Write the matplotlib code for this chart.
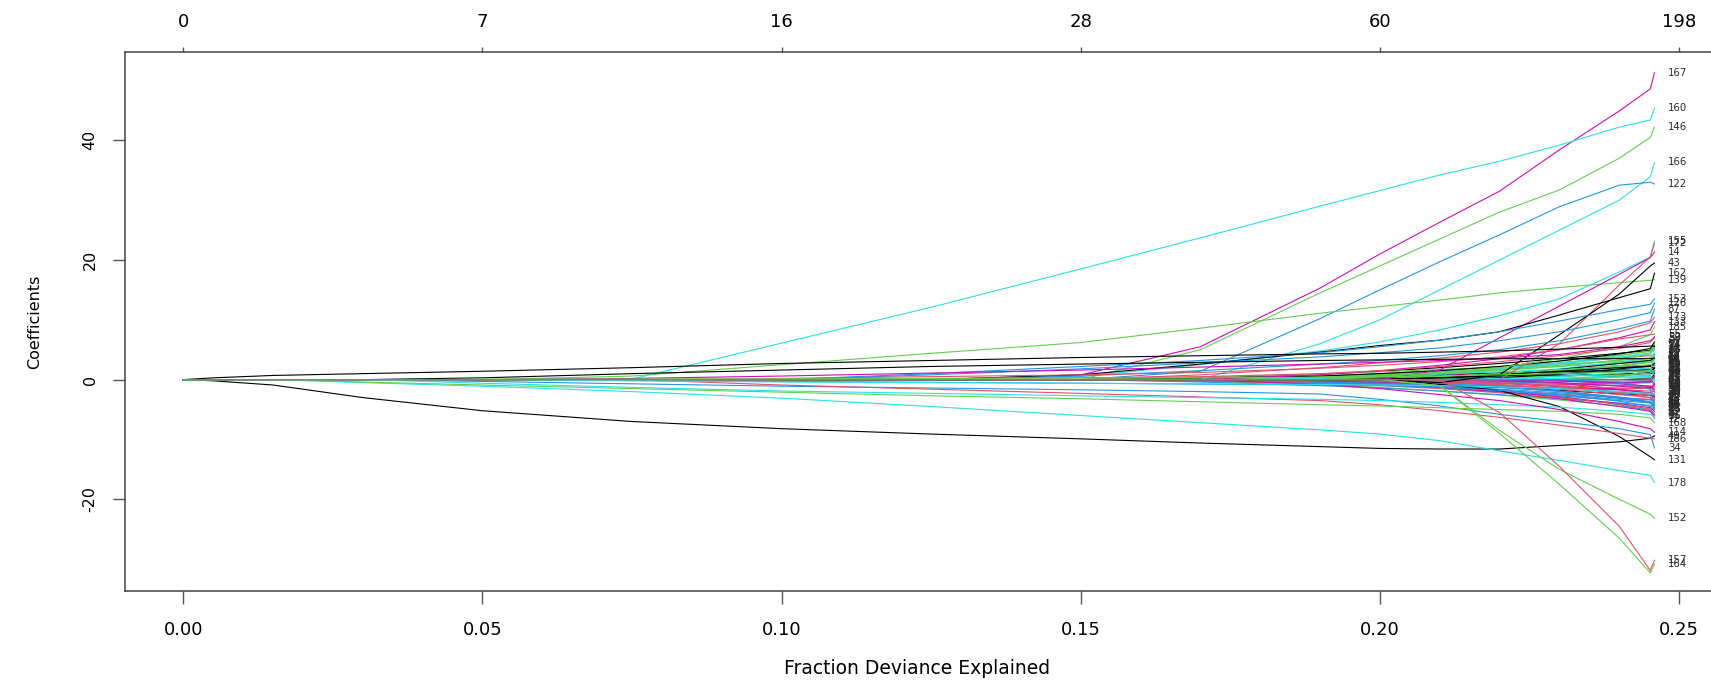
import matplotlib
matplotlib.use("Agg")
import matplotlib.pyplot as plt

# fraction of deviance explained at the path knots
dev = [0, 0.005, 0.015, 0.03, 0.05, 0.075, 0.10, 0.125, 0.15, 0.17,
       0.19, 0.20, 0.21, 0.22, 0.23, 0.24, 0.2452, 0.2459]

# coefficient paths (one value per dev knot)
major_labels = ['167', '160', '146', '166', '122', '139', '155', '14', '172',
                '43', '162', '153', '126', '87', '173', '133', '185', '55',
                '52', '59', '24', '16', '49', '131', '178', '34', '186',
                '168', '7', '114', '4', '91', '77', '152', '164', '157']
major_beta = [
    [0, 0, 0, 0, 0, 0, 0, 0, 0.8, 5.5, 15.3, 21, 26.3, 31.5, 38.4, 44.9, 48.6, 51.3],
    [0, 0, 0, 0, 0, 0.1, 6.1, 12.1, 18.5, 23.7, 29, 31.6, 34.2, 36.5, 39.2, 42.2, 43.4, 45.4],
    [0, 0, 0, 0, 0, 0, 0, 0, 0, 5, 14.5, 19, 23.5, 28, 31.7, 37, 40.5, 42.2],
    [0, 0, 0, 0, 0, 0, 0, 0, 0, 0, 6, 10, 15, 20, 25, 30, 33.9, 36.3],
    [0, 0, 0, 0, 0, 0, 0, 0, 0, 1.4, 10.2, 15, 19.7, 24.2, 28.9, 32.5, 33.0, 32.7],
    [0, 0, 0, 0, 0, 0.6, 2.5, 4.4, 6.2, 8.6, 11.1, 12.2, 13.3, 14.5, 15.4, 16.2, 16.6, 16.7],
    [0, 0, 0, 0, 0, 0, 0, 0, 0.5, 2.5, 4.8, 6.3, 8.3, 10.7, 13.5, 18.0, 20.5, 23.2],
    [0, 0, 0, 0, 0, 0, 0, 0, 0, 0, 0, 0, 1.6, 7.0, 12.3, 17.6, 20.4, 21.3],
    [0, 0, 0, 0, 0, 0, 0, 0, 0, 0, 0, 0, 0, 0, 6.0, 15.8, 20.5, 22.8],
    [0, 0, 0, 0, 0, 0, 0, 0, 0, 0, 0, 0, -0.5, 0.8, 7.5, 14.3, 19.0, 19.5],
    [0, 0, 0, 0, 0, 0, 0, 0, 0.8, 2.6, 4.6, 5.7, 6.6, 8.0, 10.8, 13.7, 15.2, 17.8],
    [0, 0, 0, 0, 0, 0, 0, 1.0, 2.2, 3.2, 4.5, 5.5, 6.6, 8.0, 9.8, 11.7, 12.6, 13.5],
    [0, 0, 0, 0, 0, 0, 0, 0.8, 1.8, 2.8, 3.8, 4.5, 5.3, 6.5, 8.0, 10.0, 11.2, 12.8],
    [0, 0, 0, 0, 0, 0, 0, 0, 0.6, 1.5, 2.6, 3.2, 4.0, 5.0, 6.5, 8.5, 9.8, 11.8],
    [0, 0, 0, 0, 0, 0, 0, 0, 0, 0.8, 2.0, 2.8, 3.6, 4.6, 6.0, 8.0, 9.5, 10.4],
    [0, 0, 0, 0, 0, 0, 0, 0, 0, 0, 0.8, 1.5, 2.4, 3.5, 5.0, 7.0, 8.3, 9.7],
    [0, 0, 0, 0, 0, 0, 0, 0, 0, 0, 0, 0.5, 1.2, 2.0, 3.5, 5.5, 7.5, 8.8],
    [0, 0, 0, 0, 0, 0, 0.2, 0.5, 0.8, 1.2, 1.9, 2.4, 3.0, 3.8, 5.0, 6.8, 7.5, 7.6],
    [0, 0, 0, 0, 0, 0, 0, 0.2, 0.3, 0.5, 1.0, 1.5, 2.2, 3.0, 4.0, 5.2, 6.2, 7.2],
    [0, 0, 0, 0, 0, 0.2, 0.6, 1.1, 1.6, 2.1, 2.6, 2.9, 3.2, 3.6, 4.2, 5.5, 6.5, 7.0],
    [0, 0.3, 0.7, 1.0, 1.4, 2.0, 2.7, 3.2, 3.7, 4.0, 4.3, 4.4, 4.6, 4.8, 5.1, 5.4, 5.6, 5.6],
    [0, 0, 0, 0, 0.3, 1.0, 1.6, 2.2, 2.6, 2.9, 3.2, 3.3, 3.4, 3.5, 3.5, 3.5, 3.5, 3.6],
    [0, -0.2, -0.9, -3.0, -5.2, -7.0, -8.2, -9.1, -9.9, -10.6, -11.2, -11.5, -11.6, -11.6, -11.0, -10.4, -9.8, -9.4],
    [0, 0, 0, 0, 0, 0, 0, 0, 0, 0, 0, 0, -0.8, -1.8, -4.5, -9.5, -12.9, -13.4],
    [0, 0, 0, -0.5, -1.1, -2.0, -3.1, -4.5, -6.0, -7.2, -8.4, -9.1, -10.2, -11.9, -13.5, -15.2, -16.0, -17.2],
    [0, 0, 0, 0, -0.3, -0.7, -1.1, -1.4, -1.7, -2.0, -2.4, -3.3, -4.4, -5.8, -7.0, -8.2, -9.2, -11.4],
    [0, 0, 0, 0, 0, 0, -0.9, -1.6, -2.3, -2.9, -3.5, -4.2, -5.2, -6.3, -7.6, -9.0, -9.8, -9.9],
    [0, 0, 0, -0.4, -0.9, -1.5, -2.1, -2.7, -3.2, -3.7, -4.2, -4.4, -4.7, -5.0, -5.3, -5.8, -6.4, -7.2],
    [0, 0, 0, 0, -0.6, -1.3, -1.9, -2.3, -2.7, -3.0, -3.3, -3.5, -3.8, -4.2, -4.6, -5.3, -5.8, -6.2],
    [0, 0, 0, 0, 0, 0, 0, 0, 0, 0, -0.8, -1.5, -2.5, -3.5, -5.0, -7.0, -8.2, -8.8],
    [0, 0, 0, 0, 0, -0.15, -0.3, -0.45, -0.6, -0.75, -0.9, -1.0, -1.3, -1.8, -2.5, -3.6, -4.5, -5.0],
    [0, 0, 0, 0, 0.05, 0.1, 0.15, 0.2, 0.25, 0.3, 0.4, 0.5, 0.6, 0.8, 1.0, 1.3, 1.5, 1.5],
    [0, 0, 0, 0, 0, -0.2, -0.4, -0.5, -0.6, -0.7, -0.8, -0.9, -1.0, -1.2, -1.5, -2.0, -2.3, -2.5],
    [0, 0, 0, 0, 0, 0, 0, 0, 0, 0, 0, 0, -1.0, -8.5, -15.0, -20.0, -22.5, -23.2],
    [0, 0, 0, 0, 0, 0, 0, 0, 0, 0, 0, 0, -1.0, -9.0, -17.5, -26.5, -32.3, -30.8],
    [0, 0, 0, 0, 0, 0, 0, 0, 0, 0, 0, 0, 0, -5.5, -14.5, -24.5, -31.9, -30.2],
]
major_col = [5, 4, 2, 4, 3, 2, 4, 5, 1, 0, 0, 3, 3, 3, 1, 5, 2, 1,
             1, 5, 0, 0, 0, 0, 4, 3, 1, 2, 4, 5, 3, 2, 4, 2, 2, 1]

# small paths that only move late; values from dev[8] (0.15) onwards
tail_from = 8
minor_labels = ['1', '2', '3', '5', '6', '8', '9', '10', '11', '12', '13', '15',
                '17', '18', '19', '20', '21', '22', '23', '25', '26', '27', '28',
                '29', '30', '31', '32', '33', '35', '36', '37', '38', '39', '40',
                '41', '42', '44', '45', '46', '47', '48', '50', '51', '53', '54',
                '56', '57', '58', '60', '61', '62', '63', '64', '65', '66', '67',
                '68', '69', '70', '71', '72', '73', '74', '75', '76', '78', '79',
                '80', '81', '82']
minor_beta = [
    [0, 0.3, 0.9, 1.4, 2.0, 2.7, 3.5, 4.4, 4.9, 5.5],
    [0, 0.2, 0.6, 1.0, 1.5, 2.1, 2.8, 3.6, 4.0, 4.2],
    [0, -0.3, -0.8, -1.3, -1.9, -2.6, -3.4, -4.4, -5.0, -5.6],
    [0, -0.1, -0.5, -0.9, -1.4, -2.0, -2.7, -3.5, -3.9, -4.3],
    [0, 0.2, 0.6, 0.9, 1.3, 1.7, 2.2, 2.7, 2.9, 3.1],
    [0, 0, 0.2, 0.4, 0.7, 1.1, 1.6, 2.1, 2.3, 2.4],
    [0, 0, -0.3, -0.5, -0.9, -1.3, -1.8, -2.4, -2.6, -2.8],
    [0, -0.2, -0.6, -0.9, -1.3, -1.8, -2.4, -3.0, -3.3, -3.5],
    [0, 0, 0, 0.3, 0.9, 1.7, 2.7, 4.0, 4.8, 6.0],
    [0, 0, 0, -0.3, -0.9, -1.7, -2.8, -4.2, -5.2, -6.5],
    [0, 0, 0, 0, 0.4, 1.0, 1.8, 2.9, 3.6, 4.5],
    [0, 0, 0, 0, -0.4, -1.0, -1.9, -3.1, -3.8, -4.8],
    [0, 0.1, 0.3, 0.4, 0.5, 0.6, 0.7, 0.9, 1.0, 1.0],
    [0, -0.1, -0.3, -0.4, -0.5, -0.6, -0.8, -1.0, -1.1, -1.1],
    [0, 0, 0, 0, 0, 0.5, 1.2, 2.2, 2.9, 3.8],
    [0, 0, 0, 0, 0, -0.5, -1.2, -2.3, -3.0, -3.9],
    [0, 0, 0, 0, 0, 0, 0.6, 1.6, 2.2, 2.9],
    [0, 0, 0, 0, 0, 0, -0.6, -1.6, -2.3, -3.0],
    [0, 0, 0, 0, 0, 0, 0, 0.6, 1.2, 2.0],
    [0, 0, 0, 0, 0, 0, 0, -0.6, -1.2, -2.1],
    [0, 0.4, 0.9, 1.3, 1.7, 2.1, 2.6, 3.0, 3.2, 3.3],
    [0, -0.4, -1.0, -1.4, -1.9, -2.5, -3.2, -3.9, -4.3, -4.6],
    [0, 0, 0.3, 0.7, 1.2, 1.9, 2.8, 3.8, 4.4, 4.9],
    [0, 0, -0.3, -0.7, -1.3, -2.0, -2.9, -4.0, -4.7, -5.3],
    [0, 0, 0, 0, 0.1, 0.3, 0.6, 0.9, 1.1, 1.3],
    [0, 0, 0, 0, -0.1, -0.3, -0.6, -1.0, -1.2, -1.4],
    [0, 0, 0, 0, 0, 0, 0, 0, 0.3, 0.7],
    [0, 0, 0, 0, 0, 0, 0, 0, -0.3, -0.6],
    [0, 0, 0.2, 0.5, 1.0, 1.7, 2.6, 3.7, 4.4, 5.0],
    [0, 0, -0.3, -0.7, -1.3, -2.1, -3.2, -4.5, -5.3, -6.0],
    [0, 0.2, 0.5, 0.7, 0.9, 1.1, 1.3, 1.6, 1.7, 1.8],
    [0, -0.2, -0.5, -0.7, -0.9, -1.1, -1.4, -1.7, -1.9, -2.0],
    [0, 0, 0, 0.2, 0.5, 1.0, 1.6, 2.2, 2.5, 2.6],
    [0, 0, 0, -0.2, -0.5, -0.9, -1.5, -2.0, -2.3, -2.4],
    [0, 0, 0, 0, 0, 0.1, 0.2, 0.4, 0.5, 0.3],
    [0, 0, 0, 0, 0, -0.1, -0.2, -0.4, -0.5, -0.2],
    [0, 0, 0, 0, 0.3, 0.9, 1.7, 2.7, 3.2, 3.6],
    [0, 0, 0, 0, -0.3, -0.9, -1.6, -2.5, -3.0, -3.3],
    [0, 0.2, 0.5, 0.8, 1.2, 1.7, 2.4, 3.2, 3.6, 4.0],
    [0, -0.2, -0.5, -0.8, -1.1, -1.6, -2.2, -3.0, -3.4, -3.7],
    [0, 0, 0, 0, 0, 0, 0.2, 0.7, 1.1, 1.6],
    [0, 0, 0, 0, 0, 0, -0.2, -0.7, -1.1, -1.7],
    [0, 0, 0, 0, 0, 0, 0, 0, 0.1, 0.9],
    [0, 0, 0, 0, 0, 0, 0, 0, -0.1, -0.9],
    [0, 0, 0.4, 0.9, 1.5, 2.2, 3.1, 4.1, 4.7, 5.2],
    [0, 0, -0.4, -0.8, -1.2, -1.8, -2.5, -3.3, -3.7, -4.0],
    [0, 0, 0, 0, 0.2, 0.5, 0.9, 1.5, 1.9, 2.2],
    [0, 0, 0, 0, -0.2, -0.6, -1.1, -1.7, -2.2, -2.6],
    [0, 0.2, 0.6, 1.0, 1.5, 2.2, 3.1, 4.3, 5.2, 6.3],
    [0, -0.2, -0.6, -1.0, -1.5, -2.2, -3.0, -4.1, -4.9, -5.9],
    [0, 0, 0, 0, 0.2, 0.4, 0.6, 0.8, 0.7, 0.0],
    [0, 0, 0, 0, -0.2, -0.4, -0.6, -0.7, -0.5, 0.4],
    [0, 0, 0.2, 0.5, 0.9, 1.3, 1.7, 2.0, 1.8, 1.2],
    [0, 0, -0.2, -0.5, -0.8, -1.2, -1.5, -1.6, -1.3, -0.8],
    [0, 0, 0, 0, 0, 0.3, 0.9, 1.8, 2.3, 2.7],
    [0, 0, 0, 0, 0, -0.4, -1.1, -2.1, -2.7, -3.2],
    [0, 0, 0, 0.2, 0.5, 1.0, 1.6, 2.4, 2.9, 3.4],
    [0, 0, 0, -0.2, -0.6, -1.2, -2.0, -3.1, -3.8, -4.4],
    [0, 0, 0, 0, 0, 0, 0.2, 0.5, 0.4, -0.5],
    [0, 0, 0, 0, 0, 0, -0.2, -0.5, -0.3, 0.6],
    [0, 0, 0, 0, 0.3, 0.8, 1.4, 2.0, 2.2, 1.9],
    [0, 0, 0, 0, -0.3, -0.8, -1.4, -2.1, -2.3, -1.9],
    [0, 0.1, 0.4, 0.7, 1.0, 1.5, 2.2, 3.3, 4.3, 5.8],
    [0, -0.1, -0.4, -0.6, -0.9, -1.3, -1.9, -2.9, -3.7, -4.9],
    [0, 0, 0, 0, 0, 0.2, 0.5, 1.1, 1.5, 0.8],
    [0, 0, 0, 0, 0, -0.2, -0.5, -1.1, -1.5, -0.7],
    [0, 0, 0, 0.1, 0.3, 0.6, 1.0, 1.4, 1.5, 1.5],
    [0, 0, 0, -0.1, -0.3, -0.6, -1.0, -1.4, -1.5, -1.6],
    [0, 0, 0, 0, 0, 0, 0, 0.4, 1.6, 4.1],
    [0, 0, 0, 0, 0, 0, 0, -0.4, -1.6, -4.2],
]

# top axis: number of nonzero coefficients
top_at = [0, 0.05, 0.10, 0.15, 0.20, 0.25]
top_df = ['0', '7', '16', '28', '60', '198']

pal = ['#000000', '#DF536B', '#61D04F', '#2297E6', '#28E2E5', '#CD0BBC']
W, H = 1711, 681

plt.rcParams['font.family'] = ['DejaVu Sans']
fig = plt.figure(figsize=(W / 100, H / 100), dpi=100)
ax = fig.add_axes([125.3 / W, 1 - 591.4 / H, (1726.6 - 125.3) / W, 539.0 / H])


def add_label(lab, y):
    ax.annotate(lab, (dev[-1], y), xytext=(9.5, 0), textcoords='offset points',
                ha='left', va='center', fontsize=7.3, color='#2a2a2a',
                annotation_clip=False)


for i, row in enumerate(minor_beta):
    ys = [0] * tail_from + row
    ax.plot(dev, ys, color=pal[i % 6], lw=0.8)
    add_label(minor_labels[i], ys[-1])

for lab, row, c in zip(major_labels, major_beta, major_col):
    ax.plot(dev, row, color=pal[c], lw=0.8)
    add_label(lab, row[-1])

ax.set_xlim(-0.00969, 0.25795)
ax.set_ylim(-35.4, 54.7)
ax.set_xticks([0, 0.05, 0.10, 0.15, 0.20, 0.25])
ax.set_xticklabels(['0.00', '0.05', '0.10', '0.15', '0.20', '0.25'])
ax.set_yticks([-20, 0, 20, 40])
ax.set_yticklabels(['-20', '0', '20', '40'], rotation=90, va='center')
ax.tick_params(axis='both', length=9, width=1, color='#555555', labelsize=13)
ax.tick_params(axis='x', pad=12.5)
ax.tick_params(axis='y', pad=11, labelsize=11.5)
for s in ax.spines.values():
    s.set_color('#444444')
    s.set_linewidth(1.1)

top = ax.secondary_xaxis('top')
top.set_xticks(top_at)
top.set_xticklabels(top_df)
top.tick_params(length=3.6, width=1, color='#555555', labelsize=13, pad=12)
top.spines['top'].set_visible(False)

fig.text(917 / W, 1 - 668 / H, 'Fraction Deviance Explained', ha='center', va='center',
         fontsize=13.5)
fig.text(35 / W, 1 - 322 / H, 'Coefficients', ha='center', va='center',
         rotation=90, fontsize=11.5)

fig.savefig('out.png', dpi=100)
